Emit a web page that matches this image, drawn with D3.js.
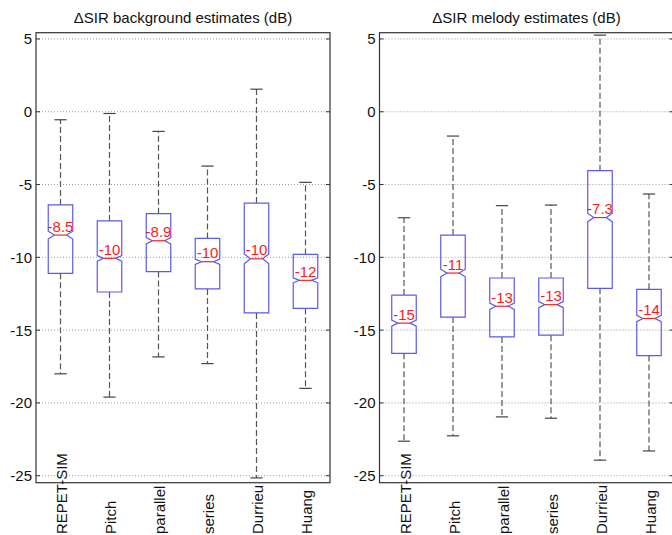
<!DOCTYPE html>
<html>
<head>
<meta charset="utf-8">
<script src="https://cdn.jsdelivr.net/npm/d3@7"></script>
<style>
  html, body { margin: 0; padding: 0; background: #fff; }
  svg { display: block; font-family: "Liberation Sans", Arial, sans-serif; }
</style>
</head>
<body>
<svg id="chart" width="672" height="535"></svg>
<script>
// ---------------- data ----------------
const categories = ["REPET-SIM", "Pitch", "parallel", "series", "Durrieu", "Huang"];
const yTicks = [5, 0, -5, -10, -15, -20, -25];

// background estimates
const bgUpper  = [-0.55, -0.12, -1.35, -3.73,  1.55, -4.85];
const bgQ3     = [-6.40, -7.50, -7.00, -8.70, -6.27, -9.80];
const bgMedian = [-8.47, -10.07, -8.86, -10.30, -10.10, -11.58];
const bgQ1     = [-11.10, -12.38, -10.98, -12.17, -13.82, -13.50];
const bgLower  = [-18.00, -19.60, -16.84, -17.30, -25.15, -19.00];
const bgNotch  = [0.27, 0.19, 0.22, 0.18, 0.34, 0.17];
const bgLabels = ["-8.5", "-10", "-8.9", "-10", "-10", "-12"];

// melody estimates
const melUpper  = [-7.28, -1.67, -6.45, -6.41,  5.26, -5.65];
const melQ3     = [-12.59, -8.47, -11.42, -11.42, -4.05, -12.20];
const melMedian = [-14.52, -11.08, -13.36, -13.25, -7.27, -14.20];
const melQ1     = [-16.59, -14.10, -15.47, -15.35, -12.13, -16.75];
const melLower  = [-22.63, -22.26, -20.96, -21.05, -23.93, -23.30];
const melNotch  = [0.21, 0.26, 0.22, 0.21, 0.28, 0.22];
const melLabels = ["-15", "-11", "-13", "-13", "-7.3", "-14"];

const titles = ["\u0394SIR background estimates (dB)", "\u0394SIR melody estimates (dB)"];

// ---------------- layout ----------------
const svg = d3.select("#chart");
const yTop = 32.7, yBottom = 482.7;
const y = d3.scaleLinear().domain([-25.48, 5.43]).range([yBottom, yTop]);

const panels = [
  { title: titles[0], x0: 36, x1: 330, upper: bgUpper, q3: bgQ3, med: bgMedian, q1: bgQ1, lower: bgLower, notch: bgNotch, labels: bgLabels },
  { title: titles[1], x0: 379.5, x1: 673.5, upper: melUpper, q3: melQ3, med: melMedian, q1: melQ1, lower: melLower, notch: melNotch, labels: melLabels }
];

const boxColor = "#5a5af0";
const FONT = 15;

panels.forEach(p => {
  const x = d3.scaleBand().domain(categories).range([p.x0, p.x1]).paddingInner(0).paddingOuter(0);
  const step = x.step();
  const bw = step * 0.25;      // half box width
  const nw = bw * 0.5;          // half width at notch
  const g = svg.append("g");

  // grid
  g.selectAll("line.grid").data(yTicks).join("line")
    .attr("x1", p.x0).attr("x2", p.x1)
    .attr("y1", d => y(d)).attr("y2", d => y(d))
    .attr("stroke", "#9a9a9a").attr("stroke-width", 1)
    .attr("stroke-dasharray", "1,2");

  const rows = categories.map((c, i) => ({
    c, cx: x(c) + step / 2,
    upper: p.upper[i], q3: p.q3[i], med: p.med[i], q1: p.q1[i], lower: p.lower[i],
    notch: p.notch[i], label: p.labels[i]
  }));

  const box = g.selectAll("g.box").data(rows).join("g");

  // whiskers (dashed)
  box.append("line")
    .attr("x1", d => d.cx).attr("x2", d => d.cx)
    .attr("y1", d => y(d.q3)).attr("y2", d => y(d.upper))
    .attr("stroke", "#555").attr("stroke-width", 1.2).attr("stroke-dasharray", "6,3");
  box.append("line")
    .attr("x1", d => d.cx).attr("x2", d => d.cx)
    .attr("y1", d => y(d.q1)).attr("y2", d => y(d.lower))
    .attr("stroke", "#555").attr("stroke-width", 1.2).attr("stroke-dasharray", "6,3");
  // caps
  box.append("line")
    .attr("x1", d => d.cx - nw).attr("x2", d => d.cx + nw)
    .attr("y1", d => y(d.upper)).attr("y2", d => y(d.upper))
    .attr("stroke", "#444").attr("stroke-width", 1.2);
  box.append("line")
    .attr("x1", d => d.cx - nw).attr("x2", d => d.cx + nw)
    .attr("y1", d => y(d.lower)).attr("y2", d => y(d.lower))
    .attr("stroke", "#444").attr("stroke-width", 1.2);

  // notched box
  box.append("path")
    .attr("d", d => {
      const pth = d3.path();
      pth.moveTo(d.cx - bw, y(d.q3));
      pth.lineTo(d.cx + bw, y(d.q3));
      pth.lineTo(d.cx + bw, y(d.med + d.notch));
      pth.lineTo(d.cx + nw, y(d.med));
      pth.lineTo(d.cx + bw, y(d.med - d.notch));
      pth.lineTo(d.cx + bw, y(d.q1));
      pth.lineTo(d.cx - bw, y(d.q1));
      pth.lineTo(d.cx - bw, y(d.med - d.notch));
      pth.lineTo(d.cx - nw, y(d.med));
      pth.lineTo(d.cx - bw, y(d.med + d.notch));
      pth.closePath();
      return pth.toString();
    })
    .attr("fill", "none").attr("stroke", boxColor).attr("stroke-width", 1.2);

  // median
  box.append("line")
    .attr("x1", d => d.cx - nw).attr("x2", d => d.cx + nw)
    .attr("y1", d => y(d.med)).attr("y2", d => y(d.med))
    .attr("stroke", "#ff2020").attr("stroke-width", 1.2);

  // median labels
  box.append("text")
    .attr("x", d => d.cx).attr("y", d => y(d.med) - 3.5)
    .attr("text-anchor", "middle")
    .attr("font-size", FONT).attr("fill", "#ff1a1a")
    .text(d => d.label);

  // frame
  g.append("rect")
    .attr("x", p.x0).attr("y", yTop)
    .attr("width", p.x1 - p.x0).attr("height", yBottom - yTop)
    .attr("fill", "none").attr("stroke", "#333").attr("stroke-width", 1.2);

  // inward ticks left and right
  g.selectAll("line.tl").data(yTicks).join("line")
    .attr("x1", p.x0).attr("x2", p.x0 + 4)
    .attr("y1", d => y(d)).attr("y2", d => y(d))
    .attr("stroke", "#333");
  g.selectAll("line.tr").data(yTicks).join("line")
    .attr("x1", p.x1 - 4).attr("x2", p.x1)
    .attr("y1", d => y(d)).attr("y2", d => y(d))
    .attr("stroke", "#333");

  // y tick labels
  g.selectAll("text.yt").data(yTicks).join("text")
    .attr("x", p.x0 - 4).attr("y", d => y(d))
    .attr("text-anchor", "end").attr("dominant-baseline", "central")
    .attr("font-size", FONT).attr("fill", "#111")
    .text(d => d);

  // x category labels (rotated)
  g.selectAll("text.xl").data(rows).join("text")
    .attr("transform", d => `translate(${d.cx + 6.5},534) rotate(-90)`)
    .attr("text-anchor", "start")
    .attr("font-size", FONT).attr("fill", "#111")
    .text(d => d.c);

  // title
  g.append("text")
    .attr("x", (p.x0 + p.x1) / 2).attr("y", 23)
    .attr("text-anchor", "middle")
    .attr("font-size", FONT).attr("fill", "#111")
    .text(p.title);
});
</script>
</body>
</html>
